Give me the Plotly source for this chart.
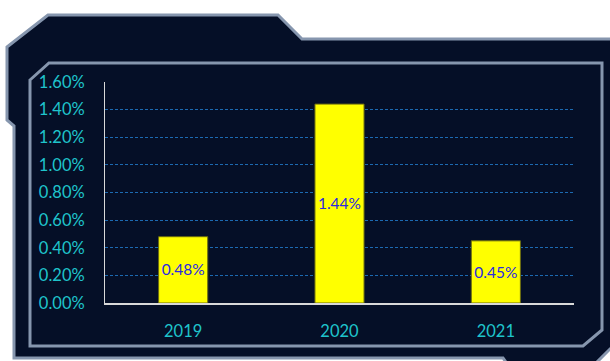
import plotly.graph_objects as go

# Annual rate by year
years = ["2019", "2020", "2021"]
rates = [0.0048, 0.0144, 0.0045]
rate_labels = ["0.48%", "1.44%", "0.45%"]

W, H = 610, 361
FRAME_FILL = "#050f27"
FRAME_LINE = "#8696ae"
CYAN = "#1fc4cc"


def px_path(points):
    """Build an SVG path in paper coordinates from pixel points (y down)."""
    parts = []
    for i, (x, y) in enumerate(points):
        cmd = "M" if i == 0 else "L"
        parts.append(f"{cmd} {x / W:.5f},{1 - y / H:.5f}")
    return " ".join(parts) + " Z"


outer = [(7, 47), (48, 15), (278, 15), (302, 39), (616, 39), (616, 343),
         (594, 365), (508, 365), (503, 358), (14, 358), (14, 126), (7, 120)]
inner = [(30, 80), (49, 63), (602, 63), (602, 330), (583, 346), (30, 346)]

fig = go.Figure(
    go.Bar(
        x=years,
        y=rates,
        text=rate_labels,
        textposition="inside",
        insidetextanchor="middle",
        textangle=0,
        textfont=dict(family="Lato", size=16.5, color="#2a2ae0"),
        marker=dict(color="#ffff00", line=dict(color="#6b6b10", width=1)),
        hoverinfo="skip",
    )
)

fig.update_layout(
    width=W,
    height=H,
    autosize=False,
    margin=dict(l=0, r=0, t=0, b=0, pad=0, autoexpand=False),
    paper_bgcolor="white",
    plot_bgcolor="rgba(0,0,0,0)",
    showlegend=False,
    bargap=0.686,
    font=dict(family="Lato", size=16, color=CYAN),
    shapes=[
        dict(type="path", xref="paper", yref="paper", path=px_path(outer),
             fillcolor=FRAME_FILL, line=dict(color=FRAME_LINE, width=3),
             layer="below"),
        dict(type="path", xref="paper", yref="paper", path=px_path(inner),
             fillcolor=FRAME_FILL, line=dict(color=FRAME_LINE, width=3),
             layer="below"),
    ],
    xaxis=dict(
        domain=[105 / W, 574 / W],
        automargin=False,
        showline=True,
        linecolor="#d9d9d9",
        linewidth=2,
        showgrid=False,
        ticks="",
        ticklabelstandoff=12,
        tickfont=dict(family="Lato", size=16.5, color=CYAN),
        fixedrange=True,
    ),
    yaxis=dict(
        domain=[1 - 303 / H, 1 - 82 / H],
        automargin=False,
        range=[0, 0.016],
        dtick=0.002,
        tickformat=".2%",
        showline=True,
        linecolor="#d9d9d9",
        linewidth=1,
        showgrid=True,
        gridcolor="#1c6ab2",
        gridwidth=1,
        griddash="3px,2px",
        zeroline=False,
        ticks="",
        ticklabelstandoff=16,
        tickfont=dict(family="Lato", size=16.5, color=CYAN),
        fixedrange=True,
    ),
)

fig.write_html("out.html", config={"displayModeBar": False})
